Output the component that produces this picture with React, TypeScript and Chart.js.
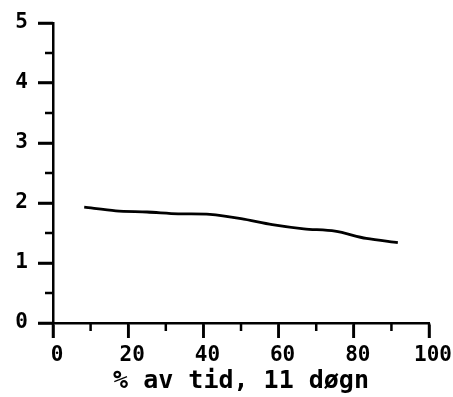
import React, { useEffect, useRef } from "react";
import { Chart, registerables } from "chart.js";

Chart.register(...registerables);

const xValues = [8.3, 16.7, 25, 33.3, 41.7, 50, 58.3, 66.7, 75, 83.3, 91.7];
const yValues = [1.93, 1.87, 1.85, 1.82, 1.81, 1.74, 1.64, 1.57, 1.53, 1.41, 1.34];
const yMajorTicks = [0, 1, 2, 3, 4, 5];
const yMinorTicks = [0.5, 1.5, 2.5, 3.5, 4.5];
const xMajorTicks = [0, 20, 40, 60, 80, 100];
const xMinorTicks = [10, 30, 50, 70, 90];
const xTitle = "% av tid, 11 døgn";

const FONT = "'DejaVu Sans Mono', monospace";

const ticksPlugin = {
  id: "axisTicks",
  afterDraw(chart: any) {
    const { ctx } = chart;
    const xs = chart.scales.x;
    const ys = chart.scales.y;
    const draw = (vals: number[], len: number, vertical: boolean) => {
      ctx.save();
      ctx.strokeStyle = "#000";
      ctx.lineWidth = 2.5;
      ctx.beginPath();
      for (const v of vals) {
        if (vertical) {
          const py = ys.getPixelForValue(v);
          ctx.moveTo(xs.left - len, py);
          ctx.lineTo(xs.left, py);
        } else {
          const px = xs.getPixelForValue(v);
          ctx.moveTo(px, ys.bottom);
          ctx.lineTo(px, ys.bottom + len);
        }
      }
      ctx.stroke();
      ctx.restore();
    };
    draw(yMajorTicks, 15, true);
    draw(yMinorTicks, 8, true);
    draw(xMajorTicks, 15, false);
    draw(xMinorTicks, 8, false);
  },
};

export default function App() {
  const ref = useRef<HTMLCanvasElement>(null);
  useEffect(() => {
    if (!ref.current) return;
    const chart = new Chart(ref.current, {
      type: "line",
      data: {
        datasets: [
          {
            data: xValues.map((x, i) => ({ x, y: yValues[i] })),
            borderColor: "#000",
            borderWidth: 2.8,
            pointRadius: 0,
            tension: 0.3,
          },
        ],
      },
      options: {
        animation: false,
        responsive: false,
        layout: { padding: { left: 0, right: 15, top: 23, bottom: 0 } },
        plugins: { legend: { display: false }, tooltip: { enabled: false } },
        scales: {
          x: {
            type: "linear",
            min: 0,
            max: 100,
            ticks: {
              stepSize: 20,
              color: "#000",
              padding: 5,
              labelOffset: 4,
              maxRotation: 0,
              font: { family: FONT, size: 21, weight: "bold" },
            },
            grid: {
              drawOnChartArea: false,
              tickLength: 15,
              tickColor: "#000",
              tickWidth: 2.5,
            },
            border: { color: "#000", width: 2.5 },
            title: {
              display: true,
              text: xTitle,
              color: "#000",
              padding: { top: 0, bottom: 1 },
              font: { family: FONT, size: 25, weight: "bold" },
            },
            afterFit: (s: any) => {
              s.height = 74;
            },
          },
          y: {
            min: 0,
            max: 5,
            ticks: {
              stepSize: 1,
              color: "#000",
              padding: 10,
              font: { family: FONT, size: 21, weight: "bold" },
            },
            grid: {
              drawOnChartArea: false,
              tickLength: 15,
              tickColor: "#000",
              tickWidth: 2.5,
            },
            border: { color: "#000", width: 2.5 },
            afterFit: (s: any) => {
              s.width = 53;
            },
          },
        },
      },
      plugins: [ticksPlugin],
    });
    return () => chart.destroy();
  }, []);
  return (
    <div style={{ position: "absolute", left: 0, top: 0, width: 453, height: 397, background: "#fff" }}>
      <canvas ref={ref} width={453} height={397} />
    </div>
  );
}
